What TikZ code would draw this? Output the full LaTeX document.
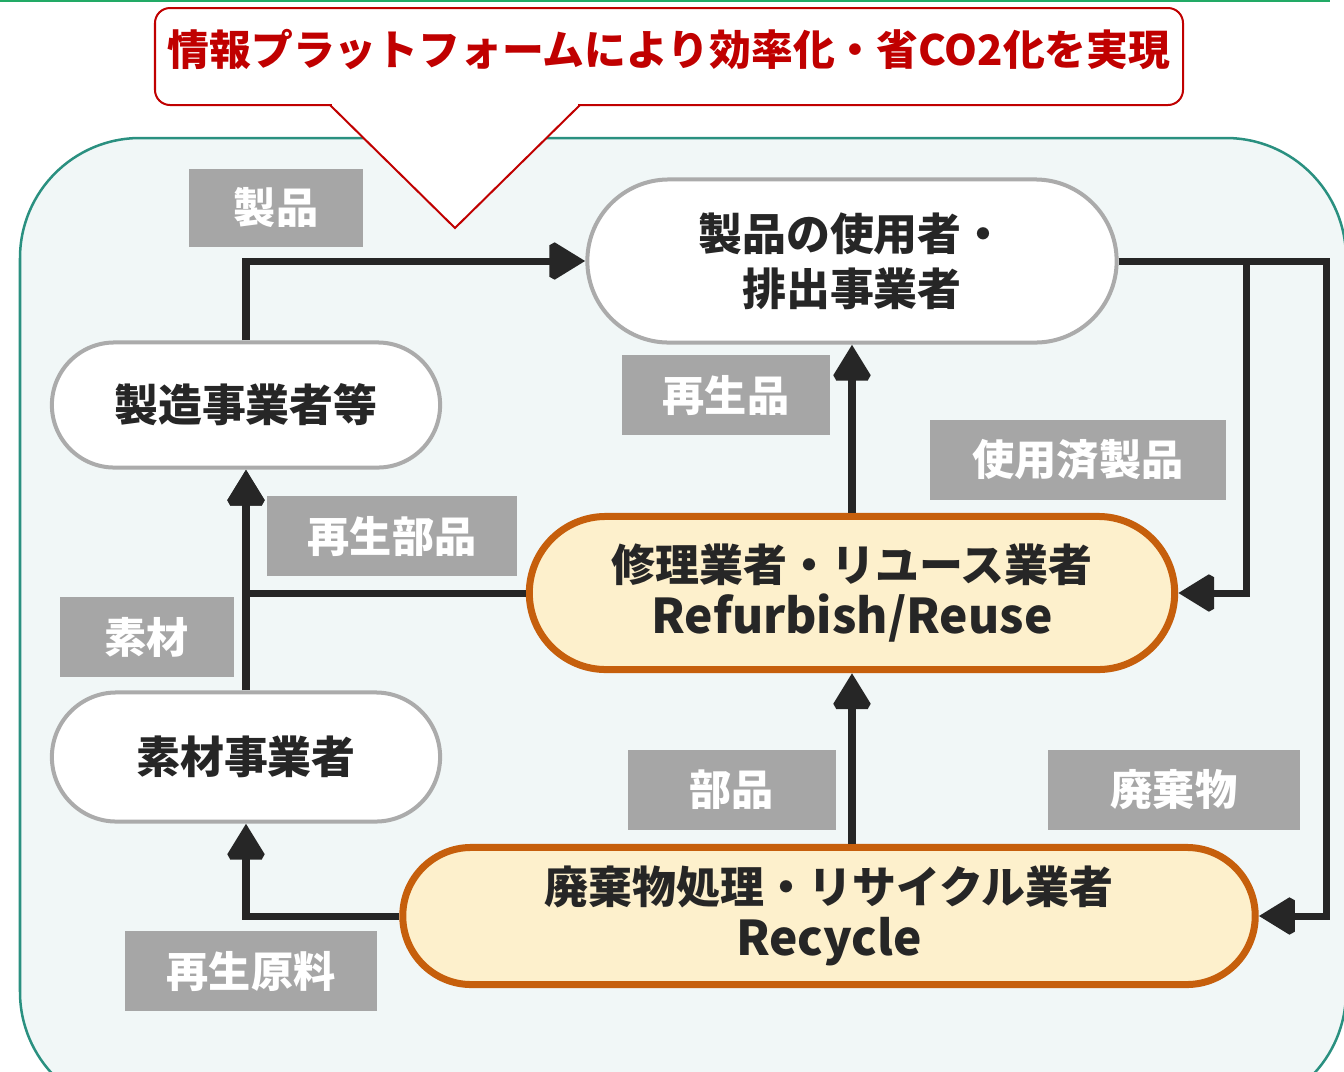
\documentclass[tikz,border=0pt]{standalone}
\usepackage{fontspec}
\setmainfont{Noto Sans CJK JP}
\usetikzlibrary{arrows.meta,shapes.misc}
\definecolor{ink}{HTML}{262626}
\definecolor{nodegray}{HTML}{ABABAB}
\definecolor{tagGray}{HTML}{A6A6A6}
\definecolor{bgTeal}{HTML}{2A9080}
\definecolor{bgFill}{HTML}{F1F7F7}
\definecolor{calloutRed}{HTML}{C00000}
\definecolor{orangeLine}{HTML}{C65F0C}
\definecolor{orangeFill}{HTML}{FDF0CC}
\definecolor{topGreen}{HTML}{22AA66}
\begin{document}
\begin{tikzpicture}[x=0.01cm,y=-0.01cm,
  actor/.style={rounded rectangle, draw=nodegray, line width=0.04cm, fill=white,
    inner sep=0pt, align=center, text=ink,
    font=\fontsize{12.5pt}{15.6pt}\selectfont\bfseries},
  agent/.style={actor, draw=orangeLine, line width=0.07cm, fill=orangeFill},
  tag/.style={rectangle, fill=tagGray, inner sep=0pt, text=white,
    font=\fontsize{12pt}{14pt}\selectfont\bfseries},
  arr/.style={draw=ink, line width=0.07cm, miter limit=2,
    -{Triangle[length=0.36cm,width=0.42cm]}},
  redline/.style={draw=calloutRed, line width=0.02cm}]
\useasboundingbox (0,0) rectangle (1344,1072);
\fill[white] (0,0) rectangle (1344,1072);
\begin{scope}
\clip (0,0) rectangle (1344,1072);
\draw[draw=bgTeal, fill=bgFill, line width=0.025cm, rounded corners=1.2cm] (20,138) rectangle (1346,1112);
\end{scope}
\draw[topGreen, line width=0.025cm] (0,1) -- (1330,1);
% callout
\fill[white] (330,104) -- (455,228) -- (580,104) -- cycle;
\draw[redline, fill=white, rounded corners=0.15cm] (155,8) rectangle (1183,105);
\draw[white, line width=0.04cm] (332,105) -- (578,105);
\draw[redline, line join=miter] (330,105) -- (455,228) -- (580,105);
\node[text=calloutRed, font=\fontsize{11.9pt}{14pt}\selectfont\bfseries] (title) at (669,50) {情報プラットフォームにより効率化・省CO2化を実現};
% actors
\node[actor, minimum width=5.29cm, minimum height=1.63cm] (user) at (852,261) {製品の使用者・\\排出事業者};
\node[actor, minimum width=3.88cm, minimum height=1.25cm] (maker) at (246,405) {製造事業者等};
\node[actor, minimum width=3.88cm, minimum height=1.29cm] (material) at (246,757) {素材事業者};
\node[agent, minimum width=6.45cm, minimum height=1.53cm] (repair) at (852,593) {修理業者・リユース業者\\[-1pt]\fontsize{13.6pt}{16pt}\selectfont Refurbish/Reuse};
\node[agent, minimum width=8.52cm, minimum height=1.37cm] (recycle) at (829,916) {廃棄物処理・リサイクル業者\\[-1pt]\fontsize{13.6pt}{16pt}\selectfont Recycle};
% connectors
\draw[arr] (maker.north) |- (user.west);
\draw[arr] (user.east) -- ++(128,0) |- (repair.east);
\draw[arr] (user.east) -- ++(208,0) |- (recycle.east);
\draw[arr] (repair.north) -- (user.south);
\draw[arr] (repair.south |- recycle.north) -- (repair.south);
\draw[arr] (repair.west) -| (maker.south);
\draw[arr] (material.north) -- (maker.south);
\draw[arr] (recycle.west) -| (material.south);
% tags
\node[tag, minimum width=1.74cm, minimum height=0.77cm] (tprod) at (276,208) {製品};
\node[tag, minimum width=2.07cm, minimum height=0.79cm] (tregen) at (726,395) {再生品};
\node[tag, minimum width=2.96cm, minimum height=0.80cm] (tused) at (1078,460) {使用済製品};
\node[tag, minimum width=2.50cm, minimum height=0.79cm] (tregenpart) at (392,536) {再生部品};
\node[tag, minimum width=1.74cm, minimum height=0.79cm] (tmat) at (147,637) {素材};
\node[tag, minimum width=2.08cm, minimum height=0.80cm] (tpart) at (732,790) {部品};
\node[tag, minimum width=2.52cm, minimum height=0.80cm] (twaste) at (1174,790) {廃棄物};
\node[tag, minimum width=2.51cm, minimum height=0.79cm] (traw) at (251,971) {再生原料};
\end{tikzpicture}
\end{document}
